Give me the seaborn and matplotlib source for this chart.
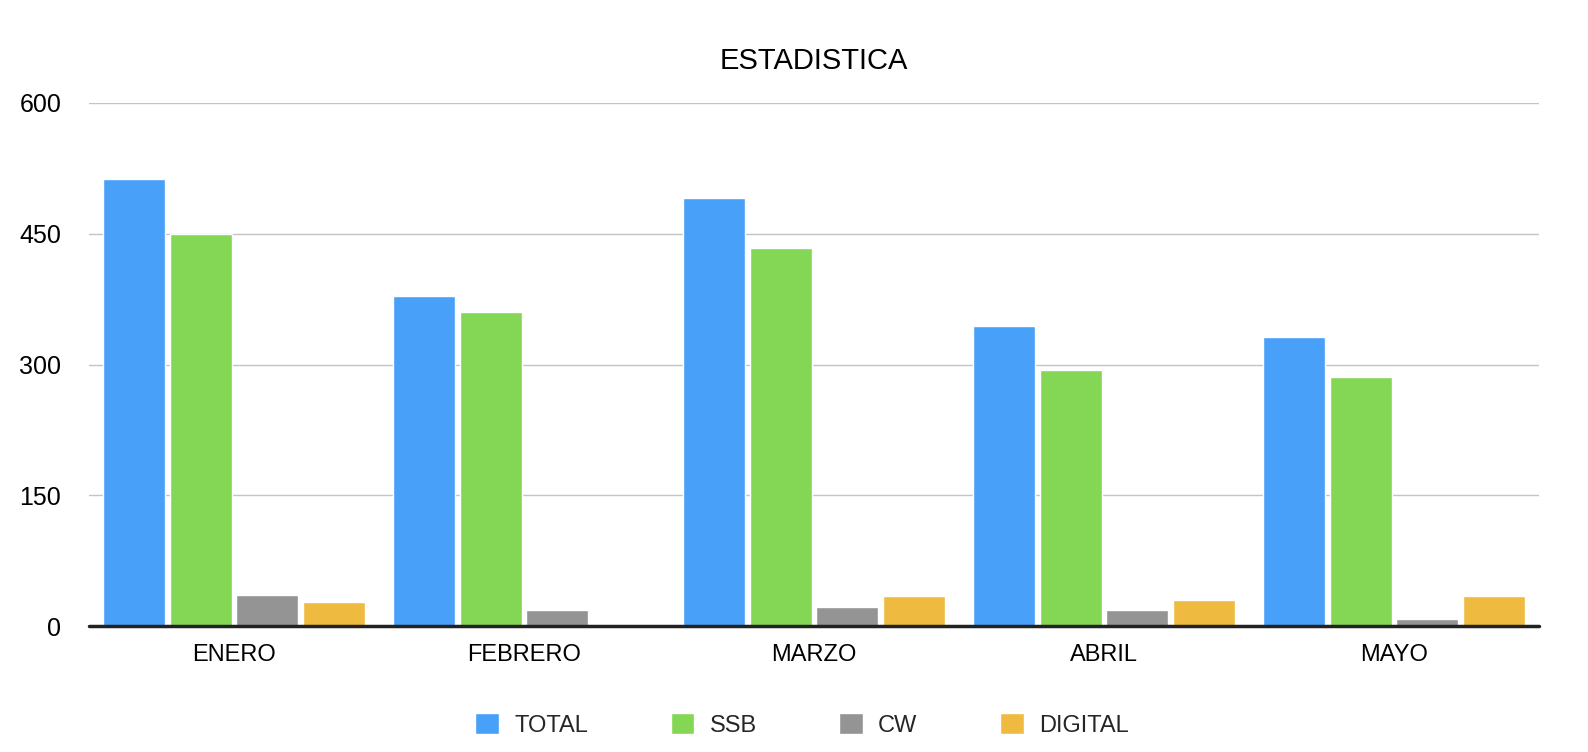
import pandas as pd
import numpy as np
import matplotlib
matplotlib.use("Agg")
import matplotlib.pyplot as plt
import seaborn as sns

# =========================
# DATA
# =========================
months = ["ENERO", "FEBRERO", "MARZO", "ABRIL", "MAYO"]
series = ["TOTAL", "SSB", "CW", "DIGITAL"]

total = [513, 379, 491, 344, 331]
ssb = [450, 360, 434, 294, 286]
cw = [35, 18, 22, 18, 8]
digital = [28, 0, 34, 30, 34]

colors = ["#48A0F8", "#84D755", "#949494", "#EEBB40"]

df = pd.DataFrame({
    "mes": months * 4,
    "serie": np.repeat(series, len(months)),
    "valor": total + ssb + cw + digital,
})

# =========================
# STYLE
# =========================
sns.set_theme(style="white")
plt.rcParams["font.family"] = ["Liberation Sans", "DejaVu Sans"]

fig = plt.figure(figsize=(15.88, 7.52), dpi=100)
ax = fig.add_axes([89 / 1588, 1 - 626 / 752, 1450 / 1588, 523 / 752])

sns.barplot(
    data=df, x="mes", y="valor", hue="serie",
    order=months, hue_order=series, palette=colors,
    width=0.92, gap=0.07, saturation=1, ax=ax, legend=True,
)

# =========================
# AXES
# =========================
ax.set_ylim(0, 600)
ax.set_yticks([0, 150, 300, 450, 600])
ax.yaxis.grid(True, color="#C4C4C4", linewidth=1)
ax.set_axisbelow(True)
for s in ax.spines.values():
    s.set_visible(False)
ax.axhline(0, color="#222222", linewidth=2.5, clip_on=False, zorder=5)

ax.tick_params(axis="y", length=0, pad=20, labelsize=18, labelcolor="black")
ax.tick_params(axis="x", length=0, pad=13, labelsize=17, labelcolor="black")
ax.set_xlabel("")
ax.set_ylabel("")

fig.text(814 / 1588, 1 - 61 / 752, "ESTADISTICA", ha="center", va="center",
         fontsize=21, color="black")

# legend
handles, labels = ax.get_legend_handles_labels()
ax.get_legend().remove()
fig.legend(
    handles, labels, loc="center", bbox_to_anchor=(0.505, 1 - 725 / 752),
    ncol=4, frameon=False, fontsize=17, handlelength=1.0, handleheight=1.0,
    handletextpad=0.65, columnspacing=3.5,
)

fig.savefig("out.png", dpi=100, facecolor="white")
